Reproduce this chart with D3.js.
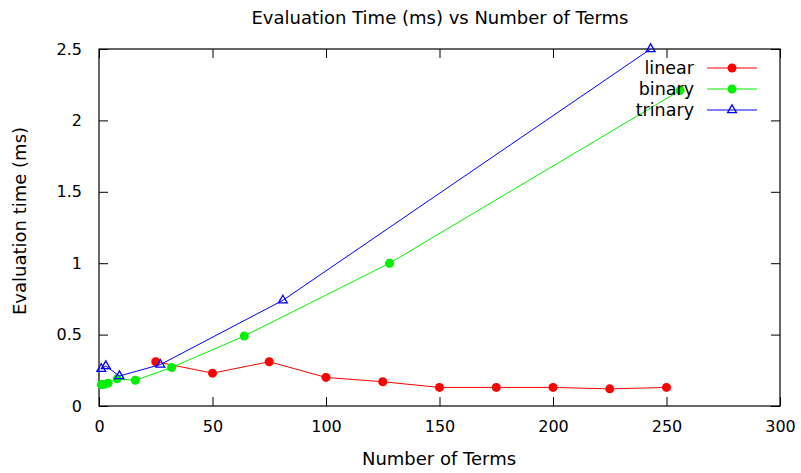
<!DOCTYPE html>
<html>
<head>
<meta charset="utf-8">
<script src="https://cdn.jsdelivr.net/npm/d3@7"></script>
<style>
	body { margin: 0; background: #fff; }
	text { font-family: "DejaVu Sans", sans-serif; fill: #000; }
</style>
</head>
<body>
<svg id="chart" width="801" height="473"></svg>
<script>
const LINEAR_X = [25, 50, 75, 100, 125, 150, 175, 200, 225, 250];
const LINEAR_Y = [0.31, 0.23, 0.31, 0.20, 0.17, 0.13, 0.13, 0.13, 0.12, 0.13];
const BINARY_X = [1, 2, 4, 8, 16, 32, 64, 128, 256];
const BINARY_Y = [0.15, 0.15, 0.16, 0.19, 0.18, 0.27, 0.49, 1.0, 2.21];
const TRINARY_X = [1, 3, 9, 27, 81, 243];
const TRINARY_Y = [0.26, 0.28, 0.21, 0.29, 0.74, 2.5];
const X_TICKS = [0, 50, 100, 150, 200, 250, 300];
const Y_TICKS = [0, 0.5, 1, 1.5, 2, 2.5];

const MARGIN = { top: 49, right: 21, bottom: 67, left: 99 };

function whenDocumentLoaded(action) {
	if (document.readyState === "loading") {
		document.addEventListener("DOMContentLoaded", action);
	} else {
		action();
	}
}

whenDocumentLoaded(() => {
	const svg = d3.select("#chart");
	const W = 801, H = 473;
	const w = W - MARGIN.left - MARGIN.right;
	const h = H - MARGIN.top - MARGIN.bottom;

	const x = d3.scaleLinear().domain([0, 300]).range([MARGIN.left, MARGIN.left + w]);
	const y = d3.scaleLinear().domain([0, 2.5]).range([MARGIN.top + h, MARGIN.top]);

	const series = [
		{ name: "linear", color: "#ff0000", marker: "circle",
			data: LINEAR_X.map((v, i) => ({ x: v, y: LINEAR_Y[i] })) },
		{ name: "binary", color: "#00f000", marker: "circle",
			data: BINARY_X.map((v, i) => ({ x: v, y: BINARY_Y[i] })) },
		{ name: "trinary", color: "#0000ff", marker: "triangle",
			data: TRINARY_X.map((v, i) => ({ x: v, y: TRINARY_Y[i] })) }
	];

	// axes with inward ticks, mirrored on top/right like gnuplot
	const tick = 9;
	const fmt = d => String(d);
	svg.append("g")
		.attr("transform", `translate(0,${MARGIN.top + h})`)
		.call(d3.axisBottom(x).tickValues(X_TICKS).tickSizeInner(-tick).tickSizeOuter(0).tickPadding(tick + 6).tickFormat(fmt));
	svg.append("g")
		.attr("transform", `translate(0,${MARGIN.top})`)
		.call(d3.axisTop(x).tickValues(X_TICKS).tickSizeInner(-tick).tickSizeOuter(0).tickFormat(""));
	svg.append("g")
		.attr("transform", `translate(${MARGIN.left},0)`)
		.call(d3.axisLeft(y).tickValues(Y_TICKS).tickSizeInner(-tick).tickSizeOuter(0).tickPadding(tick + 8).tickFormat(fmt));
	svg.append("g")
		.attr("transform", `translate(${MARGIN.left + w},0)`)
		.call(d3.axisRight(y).tickValues(Y_TICKS).tickSizeInner(-tick).tickSizeOuter(0).tickFormat(""));

	svg.selectAll(".domain").remove();
	svg.selectAll(".tick line").attr("stroke", "#000");
	svg.selectAll(".tick text")
		.style("font-family", "DejaVu Sans, sans-serif")
		.style("font-size", "16px")
		.attr("fill", "#000");

	svg.append("rect")
		.attr("x", MARGIN.left).attr("y", MARGIN.top)
		.attr("width", w).attr("height", h)
		.attr("fill", "none").attr("stroke", "#000").attr("stroke-width", 1.2);

	const line = d3.line().x(d => x(d.x)).y(d => y(d.y));
	const tri = d3.symbol().type(d3.symbolTriangle).size(34);

	series.forEach(s => {
		svg.append("path")
			.datum(s.data)
			.attr("d", line)
			.attr("fill", "none")
			.attr("stroke", s.color)
			.attr("stroke-width", 1);
		if (s.marker === "circle") {
			svg.selectAll(null).data(s.data).enter().append("circle")
				.attr("cx", d => x(d.x)).attr("cy", d => y(d.y))
				.attr("r", 4.5).attr("fill", s.color);
		} else {
			svg.selectAll(null).data(s.data).enter().append("path")
				.attr("d", tri)
				.attr("transform", d => `translate(${x(d.x)},${y(d.y)})`)
				.attr("fill", "none").attr("stroke", s.color).attr("stroke-width", 1.3);
		}
	});

	// legend
	const legend = svg.append("g");
	series.forEach((s, i) => {
		const ly = 68 + i * 21;
		legend.append("text")
			.attr("x", 694).attr("y", ly)
			.attr("dy", "0.35em")
			.attr("text-anchor", "end")
			.style("font-size", "17.5px")
			.text(s.name);
		legend.append("line")
			.attr("x1", 707).attr("x2", 757)
			.attr("y1", ly).attr("y2", ly)
			.attr("stroke", s.color).attr("stroke-width", 1);
		if (s.marker === "circle") {
			legend.append("circle").attr("cx", 732).attr("cy", ly).attr("r", 4.5).attr("fill", s.color);
		} else {
			legend.append("path").attr("d", tri)
				.attr("transform", `translate(732,${ly})`)
				.attr("fill", "none").attr("stroke", s.color).attr("stroke-width", 1.3);
		}
	});

	// titles
	svg.append("text")
		.attr("x", 440).attr("y", 18).attr("dy", "0.35em")
		.attr("text-anchor", "middle")
		.style("font-size", "18px")
		.text("Evaluation Time (ms) vs Number of Terms");
	svg.append("text")
		.attr("x", 439).attr("y", 459).attr("dy", "0.35em")
		.attr("text-anchor", "middle")
		.style("font-size", "18px")
		.text("Number of Terms");
	svg.append("text")
		.attr("transform", "translate(20,221) rotate(-90)")
		.attr("dy", "0.35em")
		.attr("text-anchor", "middle")
		.style("font-size", "18px")
		.text("Evaluation time (ms)");
});
</script>
</body>
</html>
